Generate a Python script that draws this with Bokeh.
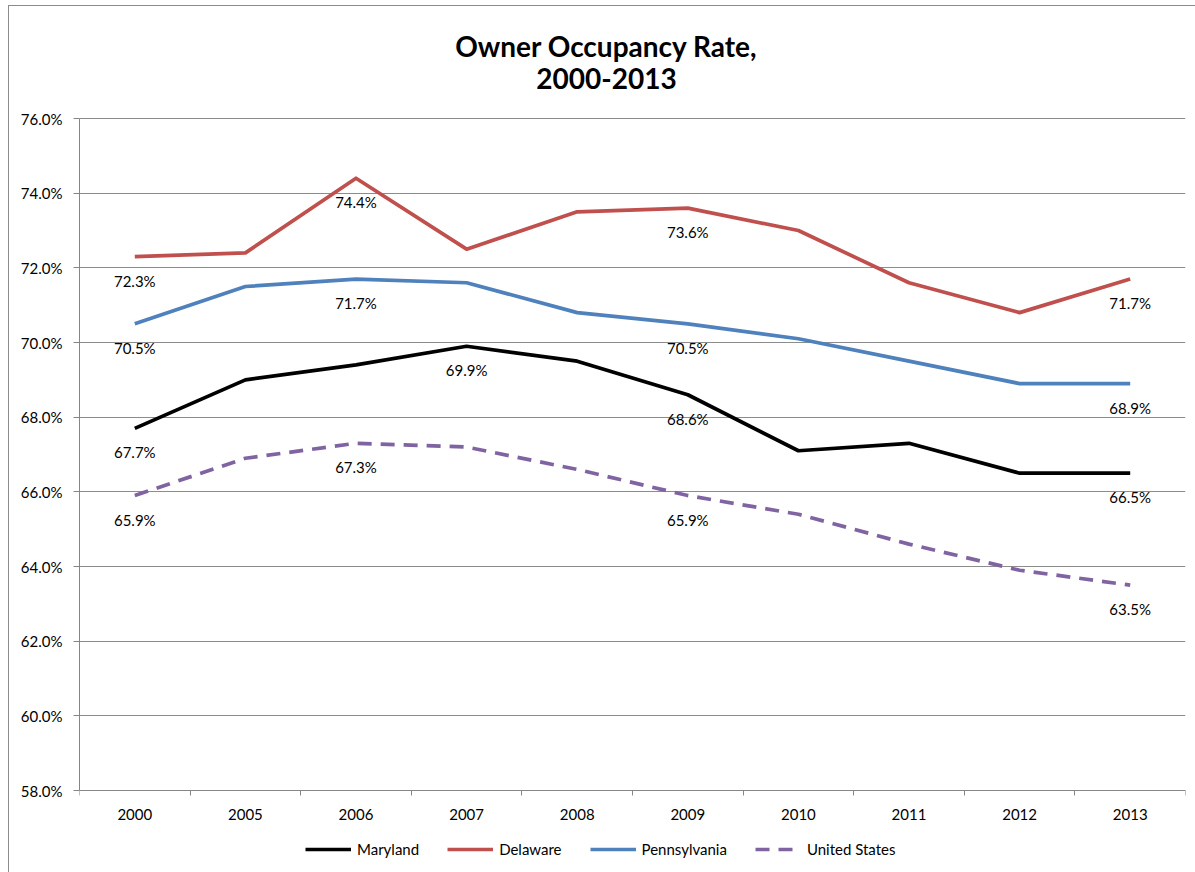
from bokeh.plotting import figure
from bokeh.models import (FixedTicker, PrintfTickFormatter, Legend, LegendItem,
                          Label, ColumnDataSource)
from bokeh.core.properties import value
from bokeh.embed import file_html
from bokeh.resources import INLINE

# ---------------- data ----------------
years = ["2000", "2005", "2006", "2007", "2008", "2009", "2010", "2011", "2012", "2013"]
maryland = [67.7, 69.0, 69.4, 69.9, 69.5, 68.6, 67.1, 67.3, 66.5, 66.5]
delaware = [72.3, 72.4, 74.4, 72.5, 73.5, 73.6, 73.0, 71.6, 70.8, 71.7]
pennsylvania = [70.5, 71.5, 71.7, 71.6, 70.8, 70.5, 70.1, 69.5, 68.9, 68.9]
united_states = [65.9, 66.9, 67.3, 67.2, 66.6, 65.9, 65.4, 64.6, 63.9, 63.5]
y_ticks = [58, 60, 62, 64, 66, 68, 70, 72, 74, 76]
series_names = ["Maryland", "Delaware", "Pennsylvania", "United States"]
# which points carry a data label (index into years)
labelled = {
    "Maryland": [0, 3, 5, 9],
    "Delaware": [0, 2, 5, 9],
    "Pennsylvania": [0, 2, 5, 9],
    "United States": [0, 2, 5, 9],
}
title_lines = ["Owner Occupancy Rate,", "2000-2013"]

# ---------------- styling / layout ----------------
FONT = "Lato"
colors = {"Maryland": "#000000", "Delaware": "#C0504D",
          "Pennsylvania": "#4F81BD", "United States": "#8064A2"}
dashes = {"Maryland": "solid", "Delaware": "solid",
          "Pennsylvania": "solid", "United States": "14 9"}
values_by_name = {"Maryland": maryland, "Delaware": delaware,
                  "Pennsylvania": pennsylvania, "United States": united_states}

PLOT_H = 672          # px height of the 58%..76% value area
TOP_PAD = 112         # px above the value area (title lives here)
BOTTOM_PAD = 78       # px below the value area (axis labels + legend)
FRAME_H = TOP_PAD + PLOT_H + BOTTOM_PAD
FRAME_W = 1106
span = y_ticks[-1] - y_ticks[0]
y_hi = y_ticks[-1] + span * TOP_PAD / PLOT_H
y_lo = y_ticks[0] - span * BOTTOM_PAD / PLOT_H

n = len(years)
xs = [i + 0.5 for i in range(n)]

p = figure(frame_width=FRAME_W, frame_height=FRAME_H, output_backend="svg",
           toolbar_location=None, x_range=(0, n), y_range=(y_lo, y_hi),
           min_border_left=70, min_border_right=10, min_border_top=0,
           min_border_bottom=4, title=None)
p.styles = {"margin-left": "8px", "margin-top": "5px",
            "border-left": "1px solid #8c8c8c", "border-top": "1px solid #8c8c8c"}
p.outline_line_color = None
p.background_fill_color = "white"
p.border_fill_color = "white"

# x axis (drawn at the 58% line): labels at category centers, ticks at boundaries
p.xaxis.fixed_location = y_ticks[0]
p.xaxis.ticker = FixedTicker(ticks=xs, minor_ticks=list(range(n + 1)))
p.xaxis.major_label_overrides = {x: y for x, y in zip(xs, years)}
p.xaxis.major_tick_line_color = None
p.xaxis.major_tick_out = 0
p.xaxis.major_tick_in = 0
p.xaxis.minor_tick_line_color = "#868686"
p.xaxis.minor_tick_out = 5
p.xaxis.minor_tick_in = 0
p.xaxis.axis_line_color = "#868686"
p.xaxis.major_label_standoff = 13
p.xaxis.major_label_text_font = FONT
p.xaxis.major_label_text_font_size = "15px"
p.xaxis.major_label_text_color = "#000000"
p.xgrid.grid_line_color = None

# y axis
p.yaxis.ticker = FixedTicker(ticks=y_ticks, minor_ticks=[])
p.yaxis.bounds = (y_ticks[0], y_ticks[-1])
p.yaxis.formatter = PrintfTickFormatter(format="%.1f%%")
p.yaxis.major_tick_line_color = "#868686"
p.yaxis.major_tick_out = 6
p.yaxis.major_tick_in = 0
p.yaxis.minor_tick_line_color = None
p.yaxis.axis_line_color = "#868686"
p.yaxis.major_label_standoff = 11
p.yaxis.major_label_text_font = FONT
p.yaxis.major_label_text_font_size = "15px"
p.yaxis.major_label_text_color = "#000000"
p.ygrid.grid_line_color = "#8c8c8c"
p.ygrid.grid_line_width = 1

items = []
for name in series_names:
    vals = values_by_name[name]
    src = ColumnDataSource(dict(x=xs, y=vals))
    r = p.line("x", "y", source=src, line_color=colors[name], line_width=3.7,
               line_dash=dashes[name], line_join="round", line_cap="butt")
    items.append(LegendItem(label=name, renderers=[r]))
    idx = labelled[name]
    lsrc = ColumnDataSource(dict(x=[xs[i] for i in idx], y=[vals[i] for i in idx],
                                 t=[f"{vals[i]:.1f}%" for i in idx]))
    p.text("x", "y", text="t", source=lsrc, text_font=value(FONT),
           text_font_size="15px", text_color="#000000", text_align="center",
           text_baseline="middle", y_offset=24)

legend = Legend(items=items, orientation="horizontal", location=(226, 9),
                glyph_width=46, glyph_height=20, label_standoff=6, spacing=28,
                padding=0, margin=0, border_line_color=None,
                background_fill_alpha=0, label_text_font=FONT,
                label_text_font_size="15px", label_text_color="#000000")
p.add_layout(legend, "center")

# two-line title, centred over the chart area (screen px from frame bottom-left)
for line_text, yy in zip(title_lines, [FRAME_H - 39, FRAME_H - 72]):
    p.add_layout(Label(x=527, y=yy, x_units="screen", y_units="screen",
                       text=line_text, text_font=FONT, text_font_size="28px",
                       text_font_style="bold", text_color="#000000",
                       text_align="center", text_baseline="middle"))

open("out.html", "w").write(file_html(p, INLINE))
